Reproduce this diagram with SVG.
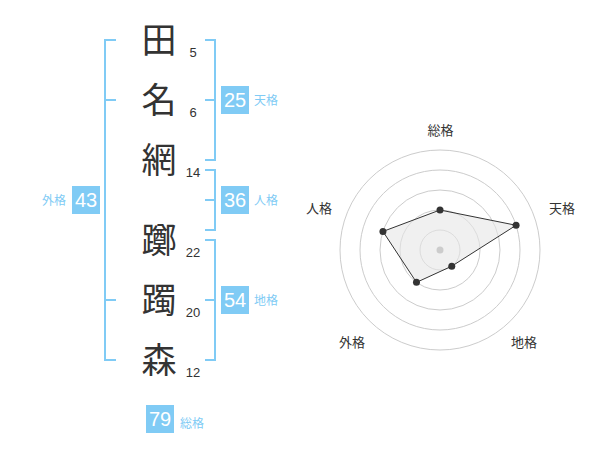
<svg xmlns="http://www.w3.org/2000/svg" width="600" height="470" viewBox="0 0 600 470">
<style>
.ch{font-family:"Noto Sans CJK JP","Noto Sans CJK SC",sans-serif;font-size:35px;fill:#333;text-anchor:middle}
.num{font-family:"Liberation Sans",Arial,sans-serif;font-size:13px;fill:#333;text-anchor:middle}
.br{fill:none;stroke:#80CBF5;stroke-width:2}
.box{fill:#80CBF5}
.bn{font-family:"Liberation Sans",Arial,sans-serif;font-size:20px;fill:#fff;text-anchor:middle}
.bl{font-family:"Noto Sans CJK JP",sans-serif;font-size:12px;fill:#80CBF5}
.ring{fill:none;stroke:#ccc;stroke-width:1}
.rl{font-family:"Noto Sans CJK JP",sans-serif;font-size:13px;fill:#333;text-anchor:middle}
.dot{fill:#333}
</style>
<g id="connectors">
<path class="br" d="M116,40 H105 V360 H116 M105,100 H116 M105,300 H116"/>
<path class="br" d="M205,40 H215 V160 H205 M205,100 H215"/>
<path class="br" d="M205,170 H215 V230 H205 M205,200 H215"/>
<path class="br" d="M205,240 H215 V360 H205 M205,300 H215"/>
</g>
<g id="chars">
<g id="c1"><text class="ch" x="159" y="53">田</text><text class="num" x="193" y="57">5</text></g>
<g id="c2"><text class="ch" x="159" y="113">名</text><text class="num" x="193" y="117">6</text></g>
<g id="c3"><text class="ch" x="159" y="173">網</text><text class="num" x="193" y="177">14</text></g>
<g id="c4"><text class="ch" x="159" y="253">躑</text><text class="num" x="193" y="257">22</text></g>
<g id="c5"><text class="ch" x="159" y="313">躅</text><text class="num" x="193" y="317">20</text></g>
<g id="c6"><text class="ch" x="159" y="373">森</text><text class="num" x="193" y="377">12</text></g>
</g>
<g id="tenkaku"><rect class="box" x="221" y="86" width="28" height="28"/><text class="bn" x="235" y="107">25</text><text class="bl" x="254" y="105">天格</text></g>
<g id="jinkaku"><rect class="box" x="221" y="186" width="28" height="28"/><text class="bn" x="235" y="207">36</text><text class="bl" x="254" y="205">人格</text></g>
<g id="chikaku"><rect class="box" x="221" y="286" width="28" height="28"/><text class="bn" x="235" y="307">54</text><text class="bl" x="254" y="305">地格</text></g>
<g id="gaikaku"><rect class="box" x="72" y="186" width="28" height="28"/><text class="bn" x="86" y="207">43</text><text class="bl" x="66" y="205" text-anchor="end">外格</text></g>
<g id="soukaku"><rect class="box" x="146" y="405" width="28" height="28"/><text class="bn" x="160" y="426">79</text><text class="bl" x="180" y="428">総格</text></g>
<g id="radar">
<circle class="ring" cx="440" cy="250" r="20"/>
<circle class="ring" cx="440" cy="250" r="40"/>
<circle class="ring" cx="440" cy="250" r="60"/>
<circle class="ring" cx="440" cy="250" r="80"/>
<circle class="ring" cx="440" cy="250" r="100"/>
<polygon points="440,210 516.08,225.28 451.76,266.18 416.49,282.36 382.94,231.46" fill="#e6e6e6" fill-opacity="0.6" stroke="#333" stroke-width="1"/>
<circle cx="440" cy="250" r="3.5" fill="#ccc"/>
<circle class="dot" cx="440" cy="210" r="3.5"/>
<circle class="dot" cx="516.08" cy="225.28" r="3.5"/>
<circle class="dot" cx="451.76" cy="266.18" r="3.5"/>
<circle class="dot" cx="416.49" cy="282.36" r="3.5"/>
<circle class="dot" cx="382.94" cy="231.46" r="3.5"/>
<text class="rl" x="440.5" y="134.5">総格</text>
<text class="rl" x="562" y="212.5">天格</text>
<text class="rl" x="524" y="346.5">地格</text>
<text class="rl" x="352" y="346.5">外格</text>
<text class="rl" x="319" y="212.5">人格</text>
</g>
</svg>
